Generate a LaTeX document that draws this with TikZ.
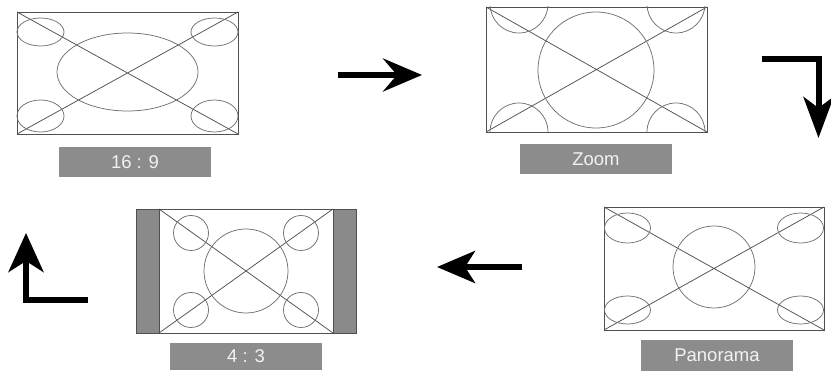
\documentclass[tikz,border=0pt]{standalone}
\usepackage{fontspec}
\setmainfont{Liberation Sans}
\usetikzlibrary{arrows.meta}
\definecolor{lblgray}{HTML}{8C8C8C}
\definecolor{linegray}{HTML}{505050}
\definecolor{circgray}{HTML}{707070}
\definecolor{bargray}{HTML}{8A8A8A}
\tikzset{
  frame/.style={draw=linegray, line width=0.8pt, inner sep=0pt, outer sep=0pt},
  diag/.style={draw=linegray, line width=0.75pt},
  figline/.style={draw=circgray, line width=0.75pt},
  lbl/.style={fill=lblgray, text=white!95!black, inner sep=0pt, outer sep=0pt, font=\fontsize{18.5}{21}\selectfont},
  bigarrow/.style={line width=6pt, black},
}
\begin{document}
\begin{tikzpicture}[x=1pt,y=-1pt]
\useasboundingbox (0,0) rectangle (831,371);
% ---------- 16:9 ----------
\node[frame, minimum width=221pt, minimum height=122pt] (p1) at (127.5,73) {};
\draw[diag] (p1.north west) -- (p1.south east) (p1.south west) -- (p1.north east);
\draw[figline] (127.5,72) ellipse [x radius=70.5, y radius=39];
\draw[figline] (40.5,32) ellipse [x radius=23.5, y radius=14];
\draw[figline] (214.5,32) ellipse [x radius=23.5, y radius=14];
\draw[figline] (40.5,116) ellipse [x radius=23.5, y radius=16];
\draw[figline] (214.5,116) ellipse [x radius=23.5, y radius=16];
\node[lbl, minimum width=152pt, minimum height=30pt] (l1) at (135,162) {16 : 9};
% ---------- Zoom ----------
\node[frame, minimum width=221pt, minimum height=125pt] (p2) at (596.5,69.5) {};
\draw[diag] (p2.north west) -- (p2.south east) (p2.south west) -- (p2.north east);
\draw[figline] (596,70) circle [radius=58];
\begin{scope}
  \clip (p2.north west) rectangle (p2.south east);
  \draw[figline] (519,4) circle [radius=29];
  \draw[figline] (676,4) circle [radius=29];
  \draw[figline] (519,132) circle [radius=29];
  \draw[figline] (676,132) circle [radius=29];
\end{scope}
\node[lbl, minimum width=152pt, minimum height=30pt] (l2) at (596,159) {Zoom};
% ---------- Panorama ----------
\node[frame, minimum width=220pt, minimum height=123pt] (p3) at (714,268.5) {};
\draw[diag] (p3.north west) -- (p3.south east) (p3.south west) -- (p3.north east);
\draw[figline] (714,267) circle [radius=41];
\draw[figline] (627.5,228) ellipse [x radius=23, y radius=15];
\draw[figline] (800.5,228) ellipse [x radius=23, y radius=15];
\draw[figline] (627.5,310) ellipse [x radius=23, y radius=14];
\draw[figline] (800.5,310) ellipse [x radius=23, y radius=14];
\node[lbl, minimum width=152pt, minimum height=31pt] (l3) at (717,355.5) {Panorama};
% ---------- 4:3 ----------
\fill[bargray] (136,209) rectangle (159,333);
\fill[bargray] (333,209) rectangle (356,333);
\node[frame, minimum width=220pt, minimum height=124pt] (p4) at (246,271) {};
\coordinate (i4nw) at (159,209);
\coordinate (i4ne) at (333,209);
\coordinate (i4sw) at (159,333);
\coordinate (i4se) at (333,333);
\draw[diag] (i4nw) -- (i4se) (i4sw) -- (i4ne);
\draw[linegray, line width=0.5pt] (i4nw) -- (i4sw) (i4ne) -- (i4se);
\draw[figline] (246,271) circle [radius=42];
\draw[figline] (191,233) circle [radius=17.5];
\draw[figline] (301,233) circle [radius=17.5];
\draw[figline] (191,310) circle [radius=17.5];
\draw[figline] (301,310) circle [radius=17.5];
\node[lbl, minimum width=152pt, minimum height=27pt] (l4) at (246,356.5) {4 : 3};
% ---------- arrows ----------
\coordinate (a1s) at (338,75);
\coordinate (a1e) at (422,75);
\draw[bigarrow, -{Stealth[length=39pt, width=33pt, inset=14pt]}] (a1s) -- (a1e);
\coordinate (a2s) at (762,59);
\coordinate (a2e) at (818.5,138);
\draw[bigarrow, -{Stealth[length=41pt, width=30pt, inset=11pt]}] (a2s) -| (a2e);
\coordinate (a3s) at (522,267);
\coordinate (a3e) at (437,267);
\draw[bigarrow, -{Stealth[length=38pt, width=32pt, inset=10pt]}] (a3s) -- (a3e);
\coordinate (a4s) at (88,300);
\coordinate (a4e) at (26,233);
\draw[bigarrow, -{Stealth[length=39pt, width=35pt, inset=11pt]}] (a4s) -| (a4e);
\end{tikzpicture}
\end{document}
